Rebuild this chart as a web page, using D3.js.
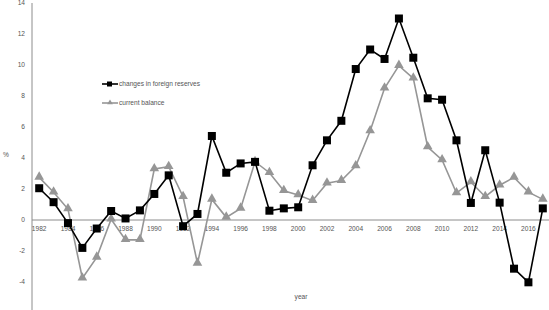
<!DOCTYPE html>
<html>
<head>
<meta charset="utf-8">
<script src="https://cdn.jsdelivr.net/npm/d3@7"></script>
<style>
  body { margin: 0; background: #fff; }
  text { font-family: "Liberation Sans", Arial, sans-serif; }
</style>
</head>
<body>
<div id="chart"></div>
<script>
var years = d3.range(1982, 2018);

var reserves = [2.05, 1.15, -0.2, -1.8, -0.55, 0.58, 0.1, 0.62, 1.68, 2.88, -0.4, 0.39,
  5.42, 3.05, 3.65, 3.75, 0.6, 0.75, 0.82, 3.53, 5.14, 6.4, 9.74, 11.0,
  10.39, 13.0, 10.47, 7.85, 7.76, 5.14, 1.1, 4.5, 1.12, -3.14, -4.02, 0.75];

var balance = [2.75, 1.79, 0.71, -3.76, -2.41, 0.05, -1.28, -1.28, 3.29, 3.44, 1.5, -2.8,
  1.33, 0.17, 0.75, 3.76, 3.05, 1.89, 1.61, 1.25, 2.37, 2.54, 3.48, 5.74,
  8.5, 9.96, 9.14, 4.71, 3.87, 1.74, 2.45, 1.5, 2.24, 2.75, 1.8, 1.33];

var yTicks = [-4, -2, 0, 2, 4, 6, 8, 10, 12, 14];
var xTicks = years.filter(d => d % 2 == 0);

var width = 549, height = 310;

var svg = d3.select("#chart").append("svg")
  .attr("width", width)
  .attr("height", height);

var x = d3.scaleBand()
  .domain(years)
  .range([32, 550])
  .padding(0);

var y = d3.scaleLinear()
  .domain([-6, 14])
  .range([313, 3]);

var cx = d => x(d) + x.bandwidth() / 2;

// y axis
svg.append("line")
  .attr("x1", 32).attr("x2", 32)
  .attr("y1", y(14)).attr("y2", height)
  .attr("stroke", "#8c8c8c").attr("stroke-width", 1);

svg.append("g")
  .selectAll("text")
  .data(yTicks)
  .join("text")
  .attr("x", 25)
  .attr("y", d => y(d))
  .attr("dy", "0.35em")
  .attr("text-anchor", "end")
  .attr("font-size", 6.6)
  .attr("fill", "#555")
  .text(d => d);

// x axis on zero
svg.append("line")
  .attr("x1", 32).attr("x2", width)
  .attr("y1", y(0)).attr("y2", y(0))
  .attr("stroke", "#8c8c8c").attr("stroke-width", 1);

svg.append("g")
  .selectAll("text")
  .data(xTicks)
  .join("text")
  .attr("x", d => cx(d))
  .attr("y", y(0) + 9)
  .attr("dy", "0.35em")
  .attr("text-anchor", "middle")
  .attr("font-size", 6.6)
  .attr("fill", "#555")
  .text(d => d);

svg.append("text")
  .attr("x", 3).attr("y", 155)
  .attr("dy", "0.35em")
  .attr("font-size", 6.6).attr("fill", "#555")
  .text("%");

svg.append("text")
  .attr("x", 301).attr("y", 297)
  .attr("dy", "0.35em")
  .attr("text-anchor", "middle")
  .attr("font-size", 6.6).attr("fill", "#555")
  .text("year");

var line = d3.line()
  .x((d, i) => cx(years[i]))
  .y(d => y(d));

var tri = d3.symbol().type(d3.symbolTriangle).size(40);

// current balance (drawn first, beneath)
svg.append("path")
  .datum(balance)
  .attr("fill", "none")
  .attr("stroke", "#969696")
  .attr("stroke-width", 1.6)
  .attr("d", line);

svg.append("g")
  .selectAll("path")
  .data(balance)
  .join("path")
  .attr("d", tri)
  .attr("transform", (d, i) => `translate(${cx(years[i])},${y(d) - 0.5})`)
  .attr("fill", "#969696");

// changes in foreign reserves
svg.append("path")
  .datum(reserves)
  .attr("fill", "none")
  .attr("stroke", "#000")
  .attr("stroke-width", 1.6)
  .attr("d", line);

svg.append("g")
  .selectAll("rect")
  .data(reserves)
  .join("rect")
  .attr("x", (d, i) => cx(years[i]) - 4)
  .attr("y", d => y(d) - 4)
  .attr("width", 8)
  .attr("height", 8)
  .attr("fill", "#000");

// legend
var legend = [
  {name: "changes in foreign reserves", color: "#000", shape: "square"},
  {name: "current balance", color: "#969696", shape: "triangle"}
];

var lg = svg.append("g")
  .selectAll("g")
  .data(legend)
  .join("g")
  .attr("transform", (d, i) => `translate(102,${84 + i * 19})`);

lg.append("line")
  .attr("x1", 0).attr("x2", 16)
  .attr("stroke", d => d.color)
  .attr("stroke-width", 1.6);

lg.filter(d => d.shape == "square").append("rect")
  .attr("x", 5).attr("y", -2.5)
  .attr("width", 5).attr("height", 5)
  .attr("fill", d => d.color);

lg.filter(d => d.shape == "triangle").append("path")
  .attr("d", d3.symbol().type(d3.symbolTriangle).size(14))
  .attr("transform", "translate(8,-0.3)")
  .attr("fill", d => d.color);

lg.append("text")
  .attr("x", 17)
  .attr("dy", "0.35em")
  .attr("font-size", 6.6)
  .attr("fill", "#555")
  .text(d => d.name);
</script>
</body>
</html>
